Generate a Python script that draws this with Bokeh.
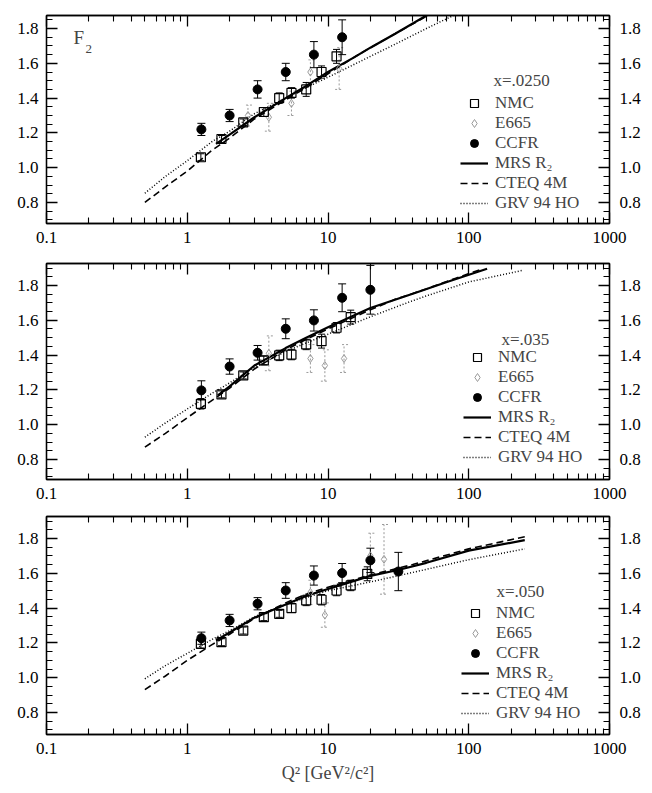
from bokeh.plotting import figure
from bokeh.layouts import column
from bokeh.models import (ColumnDataSource, Whisker, TeeHead, FixedTicker,
                          SingleIntervalTicker, LinearAxis, LogAxis,
                          PrintfTickFormatter, CustomJSTickFormatter,
                          Legend, LegendItem, Label)
from bokeh.embed import file_html
from bokeh.resources import INLINE

FONT = "'Liberation Serif', 'Times New Roman', serif"

# ---------------- data: x = .0250 ----------------
a_ccfr_q = [1.26, 2.0, 3.16, 5.01, 7.94, 12.6]
a_ccfr_f = [1.22, 1.30, 1.45, 1.55, 1.65, 1.75]
a_ccfr_e = [0.035, 0.035, 0.05, 0.05, 0.075, 0.10]
a_nmc_q = [1.25, 1.75, 2.5, 3.5, 4.5, 5.5, 7.0, 9.0, 11.5]
a_nmc_f = [1.06, 1.165, 1.26, 1.32, 1.40, 1.43, 1.45, 1.55, 1.64]
a_nmc_e = [0.02, 0.02, 0.02, 0.025, 0.03, 0.03, 0.04, 0.035, 0.04]
a_e665_q = [2.7, 3.8, 5.5, 7.5, 12.0]
a_e665_f = [1.30, 1.29, 1.37, 1.55, 1.57]
a_e665_e = [0.06, 0.08, 0.07, 0.07, 0.12]
a_mrs_q = [1.6, 2, 3, 5, 7, 10, 15, 20, 30, 50, 70]
a_mrs_f = [1.137, 1.19, 1.29, 1.40, 1.47, 1.55, 1.63, 1.69, 1.77, 1.875, 1.93]
a_cteq_q = [0.5, 0.7, 1, 1.5, 2, 3, 5, 7, 10, 15, 20, 30, 50, 70]
a_cteq_f = [0.80, 0.89, 0.98, 1.10, 1.17, 1.28, 1.39, 1.46, 1.54, 1.63, 1.69, 1.77, 1.87, 1.93]
a_grv_q = [0.5, 0.7, 1, 1.5, 2, 3, 5, 7, 10, 15, 20, 30, 50, 80, 100]
a_grv_f = [0.853, 0.95, 1.04, 1.15, 1.21, 1.31, 1.40, 1.46, 1.52, 1.59, 1.64, 1.71, 1.80, 1.88, 1.91]

# ---------------- data: x = .035 ----------------
b_ccfr_q = [1.26, 2.0, 3.16, 5.01, 7.94, 12.6, 20.0]
b_ccfr_f = [1.197, 1.334, 1.413, 1.551, 1.599, 1.729, 1.775]
b_ccfr_e = [0.055, 0.044, 0.042, 0.057, 0.061, 0.08, 0.14]
b_nmc_q = [1.25, 1.75, 2.5, 3.5, 4.5, 5.5, 7.0, 9.0, 11.5, 14.5]
b_nmc_f = [1.12, 1.174, 1.283, 1.369, 1.398, 1.403, 1.461, 1.48, 1.557, 1.618]
b_nmc_e = [0.03, 0.02, 0.02, 0.025, 0.03, 0.03, 0.03, 0.04, 0.03, 0.04]
b_e665_q = [3.8, 7.5, 9.5, 13.0]
b_e665_f = [1.41, 1.38, 1.34, 1.38]
b_e665_e = [0.10, 0.08, 0.09, 0.08]
b_mrs_q = [1.65, 2, 3, 5, 7, 10, 20, 40, 70, 135]
b_mrs_f = [1.168, 1.22, 1.34, 1.44, 1.50, 1.56, 1.67, 1.752, 1.82, 1.896]
b_cteq_q = [0.5, 0.7, 1, 1.5, 2, 3, 5, 7, 10, 20, 30, 50, 80, 120]
b_cteq_f = [0.871, 0.95, 1.04, 1.14, 1.21, 1.32, 1.43, 1.49, 1.55, 1.66, 1.72, 1.78, 1.84, 1.89]
b_grv_q = [0.5, 0.7, 1, 1.5, 2, 3, 5, 7, 10, 20, 35, 50, 100, 240]
b_grv_f = [0.928, 1.01, 1.09, 1.18, 1.24, 1.33, 1.42, 1.47, 1.52, 1.62, 1.695, 1.74, 1.82, 1.886]

# ---------------- data: x = .050 ----------------
c_ccfr_q = [1.26, 2.0, 3.16, 5.01, 7.94, 12.6, 20.0, 31.6]
c_ccfr_f = [1.227, 1.329, 1.425, 1.501, 1.587, 1.601, 1.674, 1.610]
c_ccfr_e = [0.035, 0.035, 0.035, 0.045, 0.055, 0.055, 0.07, 0.11]
c_nmc_q = [1.25, 1.75, 2.5, 3.5, 4.5, 5.5, 7.0, 9.0, 11.5, 14.5, 19.0]
c_nmc_f = [1.195, 1.204, 1.271, 1.348, 1.367, 1.40, 1.444, 1.448, 1.501, 1.53, 1.597]
c_nmc_e = [0.025, 0.02, 0.02, 0.02, 0.02, 0.025, 0.03, 0.03, 0.03, 0.03, 0.04]
c_e665_q = [7.5, 9.5, 20.0, 25.0]
c_e665_f = [1.49, 1.36, 1.70, 1.68]
c_e665_e = [0.07, 0.07, 0.13, 0.20]
c_mrs_q = [1.6, 2, 3, 5, 7, 10, 12.6, 20, 32, 50, 100, 250]
c_mrs_f = [1.214, 1.26, 1.345, 1.42, 1.47, 1.51, 1.535, 1.585, 1.62, 1.66, 1.73, 1.79]
c_cteq_q = [0.5, 0.7, 1, 1.5, 2, 3, 5, 7, 10, 20, 40, 100, 250]
c_cteq_f = [0.932, 1.01, 1.10, 1.19, 1.25, 1.34, 1.43, 1.48, 1.52, 1.59, 1.65, 1.74, 1.81]
c_grv_q = [0.5, 0.7, 1, 1.5, 2, 3, 5, 7, 10, 20, 32, 100, 250]
c_grv_f = [0.994, 1.07, 1.14, 1.22, 1.27, 1.35, 1.42, 1.46, 1.50, 1.55, 1.587, 1.678, 1.74]

x_major = [0.1, 1, 10, 100, 1000]
x_minor = [m * 10.0 ** e for e in range(-1, 3) for m in range(2, 10)]


def style_axis(ax, show_labels=True):
    ax.axis_line_color = "black"
    ax.axis_line_width = 1.3
    ax.major_tick_in = 11
    ax.major_tick_out = 0
    ax.minor_tick_in = 6
    ax.minor_tick_out = 0
    ax.major_tick_line_color = "black"
    ax.minor_tick_line_color = "black"
    ax.major_tick_line_width = 1.3
    ax.minor_tick_line_width = 1.1
    ax.major_label_text_font = FONT
    ax.major_label_text_color = "black"
    if show_labels:
        ax.major_label_text_font_size = "17px"
        ax.major_label_standoff = 8
    else:
        ax.major_label_text_font_size = "1px"
        ax.major_label_standoff = 0


def errorbars(p, q, f, e, color, dash, head):
    src = ColumnDataSource(dict(q=q, lo=[a - b for a, b in zip(f, e)],
                                hi=[a + b for a, b in zip(f, e)]))
    kw = dict(line_color=color, line_width=1.0, line_dash=dash)
    w = Whisker(source=src, base="q", lower="lo", upper="hi",
                upper_head=TeeHead(size=head, **kw),
                lower_head=TeeHead(size=head, **kw), **kw)
    p.add_layout(w)


def panel(tag, ccfr, nmc, e665, mrs, cteq, grv, y_lo, y_hi, frame_h,
          top, bottom, legend_y, legend_x, tag_x, tag_y, xtitle=False, f2=False):
    p = figure(x_axis_type="log", x_range=(0.1, 1000), y_range=(y_lo, y_hi),
               width=652, height=top + frame_h + bottom,
               min_border_left=46, min_border_right=43,
               min_border_top=top, min_border_bottom=bottom,
               toolbar_location=None, output_backend="svg",
               background_fill_color="white", border_fill_color="white")
    p.grid.visible = False
    p.outline_line_color = "black"
    p.outline_line_width = 1.3

    xticker = FixedTicker(ticks=x_major, minor_ticks=x_minor)
    yticker = SingleIntervalTicker(interval=0.2, num_minor_ticks=4)

    bottom_ax = p.below[0]
    left_ax = p.left[0]
    bottom_ax.ticker = xticker
    bottom_ax.formatter = PrintfTickFormatter(format="%g")
    left_ax.ticker = yticker
    left_ax.formatter = PrintfTickFormatter(format="%.1f")
    style_axis(bottom_ax)
    style_axis(left_ax)

    top_ax = LogAxis(ticker=xticker, formatter=CustomJSTickFormatter(code="return ''"))
    style_axis(top_ax, show_labels=False)
    p.add_layout(top_ax, "above")
    right_ax = LinearAxis(ticker=yticker, formatter=PrintfTickFormatter(format="%.1f"))
    style_axis(right_ax)
    right_ax.major_label_standoff = 10
    p.add_layout(right_ax, "right")

    if xtitle:
        bottom_ax.axis_label = "Q² [GeV²/c²]"
        bottom_ax.axis_label_text_font = FONT
        bottom_ax.axis_label_text_font_size = "18px"
        bottom_ax.axis_label_text_font_style = "normal"
        bottom_ax.axis_label_standoff = 6

    # model curves
    r_mrs = p.line(mrs[0], mrs[1], line_color="black", line_width=2.2)
    r_cteq = p.line(cteq[0], cteq[1], line_color="black", line_width=1.6,
                    line_dash="7 4")
    r_grv = p.line(grv[0], grv[1], line_color="black", line_width=1.5,
                   line_dash="1 2")

    # measurements
    errorbars(p, e665[0], e665[1], e665[2], "#9a9a9a", "2 2", 8)
    r_e665 = p.scatter(e665[0], e665[1], marker="diamond", size=8,
                       fill_alpha=0, line_color="#9a9a9a", line_width=1.0)
    errorbars(p, nmc[0], nmc[1], nmc[2], "black", "solid", 7)
    r_nmc = p.scatter(nmc[0], nmc[1], marker="square", size=9, fill_alpha=0,
                      line_color="black", line_width=1.2)
    errorbars(p, ccfr[0], ccfr[1], ccfr[2], "black", "solid", 8)
    r_ccfr = p.scatter(ccfr[0], ccfr[1], marker="circle", size=9,
                       fill_color="black", line_color="black")

    legend = Legend(items=[
        LegendItem(label="NMC", renderers=[r_nmc]),
        LegendItem(label="E665", renderers=[r_e665]),
        LegendItem(label="CCFR", renderers=[r_ccfr]),
        LegendItem(label="MRS R₂", renderers=[r_mrs]),
        LegendItem(label="CTEQ 4M", renderers=[r_cteq]),
        LegendItem(label="GRV 94 HO", renderers=[r_grv]),
    ], location=(legend_x, legend_y), padding=0, margin=0, spacing=0,
        glyph_width=28, glyph_height=20, label_height=20, label_standoff=7,
        label_text_font=FONT, label_text_font_size="17px",
        label_text_line_height=1.0,
        background_fill_alpha=0, border_line_alpha=0)
    p.add_layout(legend)

    p.add_layout(Label(x=tag_x, y=tag_y, x_units="screen", y_units="screen",
                       text=tag, text_font=FONT, text_font_size="17px",
                       text_baseline="middle"))
    if f2:
        p.add_layout(Label(x=27, y=frame_h - 47 + 15, x_units="screen", y_units="screen",
                           text="F", text_font=FONT, text_font_size="19px"))
        p.add_layout(Label(x=39, y=frame_h - 52 + 15, x_units="screen", y_units="screen",
                           text="2", text_font=FONT, text_font_size="13px"))
    return p


p1 = panel("x=.0250", (a_ccfr_q, a_ccfr_f, a_ccfr_e), (a_nmc_q, a_nmc_f, a_nmc_e),
           (a_e665_q, a_e665_f, a_e665_e), (a_mrs_q, a_mrs_f), (a_cteq_q, a_cteq_f),
           (a_grv_q, a_grv_f), 0.679, 1.875, 208, 15, 27,
           legend_y=10, legend_x=414, tag_x=447, tag_y=143, f2=True)
p2 = panel("x=.035", (b_ccfr_q, b_ccfr_f, b_ccfr_e), (b_nmc_q, b_nmc_f, b_nmc_e),
           (b_e665_q, b_e665_f, b_e665_e), (b_mrs_q, b_mrs_f), (b_cteq_q, b_cteq_f),
           (b_grv_q, b_grv_f), 0.685, 1.926, 216, 13, 27,
           legend_y=12, legend_x=417, tag_x=455, tag_y=140)
p3 = panel("x=.050", (c_ccfr_q, c_ccfr_f, c_ccfr_e), (c_nmc_q, c_nmc_f, c_nmc_e),
           (c_e665_q, c_e665_f, c_e665_e), (c_mrs_q, c_mrs_f), (c_cteq_q, c_cteq_f),
           (c_grv_q, c_grv_f), 0.674, 1.926, 218, 10, 59,
           legend_y=11, legend_x=415, tag_x=450, tag_y=143, xtitle=True)

layout = column(p1, p2, p3)
open("out.html", "w").write(file_html(layout, INLINE))
